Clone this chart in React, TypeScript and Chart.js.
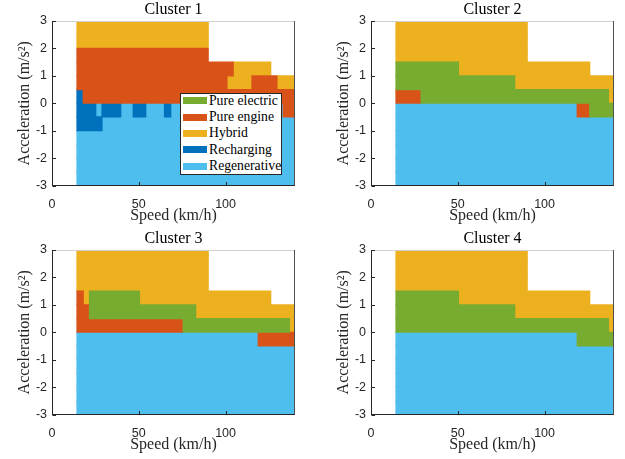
import React, { useEffect, useRef } from 'react';
import { Chart, registerables } from 'chart.js';

Chart.register(...registerables);

type Run = [string, number, number];

// ---- data ----
const modeCodes = ['E', 'G', 'H', 'C', 'R'];
const modeNames = ['Pure electric', 'Pure engine', 'Hybrid', 'Recharging', 'Regenerative'];
const modeColors = ['#77AC30', '#D95319', '#EDB120', '#0072BD', '#4DBEEE'];

const accelEdges = [3, 2.5, 2, 1.5, 1, 0.5, 0, -0.5, -1, -1.5, -2, -2.5, -3];
const xTicks = [0, 50, 100];
const yTicks = [-3, -2, -1, 0, 1, 2, 3];
const speedRangeKmh = [0, 140];
const accelRange = [-3, 3];
const msToKmh = 3.6;

const clusterTitles = ['Cluster 1', 'Cluster 2', 'Cluster 3', 'Cluster 4'];

// Runs per acceleration row (top row 2.5..3 first); speeds in m/s
const cluster1Runs: Run[][] = [
  [['H', 4, 25]],
  [['H', 4, 25]],
  [['G', 4, 25]],
  [['G', 4, 29], ['H', 29, 35]],
  [['G', 4, 28], ['H', 28, 32], ['G', 32, 36], ['H', 36, 39]],
  [['C', 4, 5], ['G', 5, 39]],
  [['C', 4, 7], ['R', 7, 8], ['C', 8, 11], ['R', 11, 13], ['C', 13, 15], ['R', 15, 18], ['C', 18, 19], ['R', 19, 37], ['G', 37, 39]],
  [['C', 4, 8], ['R', 8, 39]],
  [['R', 4, 39]],
  [['R', 4, 39]],
  [['R', 4, 39]],
  [['R', 4, 39]],
];

const cluster2Runs: Run[][] = [
  [['H', 4, 25]],
  [['H', 4, 25]],
  [['H', 4, 25]],
  [['E', 4, 14], ['H', 14, 35]],
  [['E', 4, 23], ['H', 23, 39]],
  [['G', 4, 8], ['E', 8, 38], ['H', 38, 39]],
  [['R', 4, 33], ['G', 33, 35], ['E', 35, 39]],
  [['R', 4, 39]],
  [['R', 4, 39]],
  [['R', 4, 39]],
  [['R', 4, 39]],
  [['R', 4, 39]],
];

const cluster3Runs: Run[][] = [
  [['H', 4, 25]],
  [['H', 4, 25]],
  [['H', 4, 25]],
  [['G', 4, 5], ['H', 5, 6], ['E', 6, 14], ['H', 14, 35]],
  [['G', 4, 6], ['E', 6, 23], ['H', 23, 39]],
  [['G', 4, 21], ['E', 21, 38], ['H', 38, 39]],
  [['R', 4, 33], ['G', 33, 39]],
  [['R', 4, 39]],
  [['R', 4, 39]],
  [['R', 4, 39]],
  [['R', 4, 39]],
  [['R', 4, 39]],
];

const cluster4Runs: Run[][] = [
  [['H', 4, 25]],
  [['H', 4, 25]],
  [['H', 4, 25]],
  [['E', 4, 14], ['H', 14, 35]],
  [['E', 4, 23], ['H', 23, 39]],
  [['E', 4, 38], ['H', 38, 39]],
  [['R', 4, 33], ['E', 33, 39]],
  [['R', 4, 39]],
  [['R', 4, 39]],
  [['R', 4, 39]],
  [['R', 4, 39]],
  [['R', 4, 39]],
];

const clusterRuns = [cluster1Runs, cluster2Runs, cluster3Runs, cluster4Runs];

// ---- style / layout ----
const SERIF = "'Liberation Serif', 'Times New Roman', serif";
const SANS = "'Liberation Sans', Arial, sans-serif";
const TEXT = '#262626';

const CANVAS_W = [312, 313, 312, 313];
const CANVAS_H = 229;
const CANVAS_POS = [
  [0, 0],
  [312, 0],
  [0, 229],
  [312, 229],
];
const PAD_L = [0, 7, 0, 7];
const PAD_R = [17, 11, 17, 11];

const rowLabels = accelEdges.slice(0, -1).map((v, i) => `${accelEdges[i + 1]} to ${v}`);

function buildDatasets(runs: Run[][]) {
  const datasets: any[] = [];
  modeCodes.forEach((code, m) => {
    const perRow = runs.map((row) => row.filter((r) => r[0] === code));
    const maxK = Math.max(0, ...perRow.map((r) => r.length));
    for (let k = 0; k < maxK; k++) {
      datasets.push({
        label: modeNames[m],
        data: perRow.map((r) => (r[k] ? [r[k][1] * msToKmh, r[k][2] * msToKmh] : null)),
        backgroundColor: modeColors[m],
        borderWidth: 0,
        borderSkipped: false,
        yAxisID: 'yc',
        xAxisID: 'x',
        grouped: false,
        barPercentage: 1,
        categoryPercentage: 1,
        inflateAmount: 0.6,
        clip: 0,
      });
    }
  });
  return datasets;
}

const framePlugin = {
  id: 'frame',
  afterDraw(chart: any) {
    const { ctx, chartArea: a, scales } = chart;
    ctx.save();
    ctx.lineWidth = 1;
    // top (light)
    ctx.strokeStyle = '#d0d0d0';
    ctx.beginPath();
    ctx.moveTo(a.left, Math.floor(a.top) + 0.5);
    ctx.lineTo(a.right, Math.floor(a.top) + 0.5);
    ctx.stroke();
    ctx.strokeStyle = TEXT;
    const L = Math.floor(a.left) + 0.5;
    const B = Math.round(a.bottom) - 0.5;
    const R = Math.round(a.right) - 0.5;
    ctx.beginPath();
    ctx.moveTo(L, a.top);
    ctx.lineTo(L, B + 0.5);
    ctx.moveTo(L - 0.5, B);
    ctx.lineTo(a.right, B);
    ctx.stroke();
    ctx.strokeStyle = '#505050';
    ctx.beginPath();
    ctx.moveTo(R, a.top);
    ctx.lineTo(R, a.bottom);
    ctx.stroke();
    ctx.strokeStyle = TEXT;
    ctx.beginPath();
    yTicks.forEach((v) => {
      const y = Math.round(scales.y.getPixelForValue(v)) + 0.5;
      ctx.moveTo(L, y);
      ctx.lineTo(L + 3.5, y);
    });
    xTicks.forEach((v) => {
      const x = Math.round(scales.x.getPixelForValue(v)) + 0.5;
      ctx.moveTo(x, B);
      ctx.lineTo(x, B - 3.5);
    });
    ctx.stroke();
    ctx.restore();
  },
};

function ClusterChart({ idx }: { idx: number }) {
  const ref = useRef<HTMLCanvasElement>(null);
  useEffect(() => {
    if (!ref.current) return;
    const chart = new Chart(ref.current, {
      type: 'bar',
      data: { labels: rowLabels, datasets: buildDatasets(clusterRuns[idx]) },
      options: {
        indexAxis: 'y',
        responsive: false,
        animation: false,
        events: [],
        layout: { padding: { left: PAD_L[idx], right: PAD_R[idx], top: 0, bottom: 0 } },
        plugins: {
          legend: { display: false },
          tooltip: { enabled: false },
          title: {
            display: true,
            text: clusterTitles[idx],
            fullSize: false,
            color: '#000',
            font: { family: SERIF, size: 16, weight: 'normal', lineHeight: 1 },
            padding: { top: 1.6, bottom: 3.4 },
          },
        },
        scales: {
          x: {
            type: 'linear',
            position: 'bottom',
            min: speedRangeKmh[0],
            max: speedRangeKmh[1],
            offset: false,
            beginAtZero: false,
            grid: { display: false, drawTicks: false, tickLength: 0, offset: false },
            border: { display: false },
            afterBuildTicks: (s: any) => {
              s.ticks = xTicks.map((v) => ({ value: v }));
            },
            afterFit: (s: any) => {
              s.height = 43.5;
            },
            ticks: {
              color: TEXT,
              font: { family: SANS, size: 12.5 },
              padding: 11.5,
              maxRotation: 0,
              autoSkip: false,
              callback: (v: any) => String(v),
            },
            title: {
              display: true,
              text: 'Speed (km/h)',
              color: TEXT,
              font: { family: SERIF, size: 16, lineHeight: 1 },
              padding: { top: 0, bottom: 5 },
            },
          },
          y: {
            type: 'linear',
            position: 'left',
            min: accelRange[0],
            max: accelRange[1],
            offset: false,
            grid: { display: false, drawTicks: false, tickLength: 0, offset: false },
            border: { display: false },
            afterBuildTicks: (s: any) => {
              s.ticks = yTicks.map((v) => ({ value: v }));
            },
            afterFit: (s: any) => {
              s.width = 52;
            },
            ticks: {
              color: TEXT,
              font: { family: SANS, size: 12.5 },
              padding: 5,
              autoSkip: false,
              callback: (v: any) => String(v),
            },
            title: {
              display: true,
              text: 'Acceleration (m/s²)',
              color: TEXT,
              font: { family: SERIF, size: 16, lineHeight: 1 },
              padding: { top: 17, bottom: 0 },
            },
          },
          yc: {
            type: 'category',
            axis: 'y',
            display: false,
            offset: true,
            grid: { display: false, offset: true },
          },
        },
      } as any,
      plugins: [framePlugin],
    });
    return () => chart.destroy();
  }, [idx]);
  return (
    <canvas
      ref={ref}
      width={CANVAS_W[idx]}
      height={CANVAS_H}
      style={{
        position: 'absolute',
        left: CANVAS_POS[idx][0],
        top: CANVAS_POS[idx][1],
        width: CANVAS_W[idx],
        height: CANVAS_H,
      }}
    />
  );
}

const legendCenters = [6.8, 23.1, 39.4, 55.7, 72.0];

function Legend() {
  return (
    <div
      style={{
        position: 'absolute',
        left: 180,
        top: 93,
        width: 102,
        height: 82,
        boxSizing: 'border-box',
        border: `1px solid ${TEXT}`,
        background: '#fff',
        zIndex: 2,
      }}
    >
      {modeNames.map((name, i) => (
        <React.Fragment key={name}>
          <div
            style={{
              position: 'absolute',
              left: 2,
              top: legendCenters[i] - 3.5,
              width: 24,
              height: 7,
              background: modeColors[i],
            }}
          />
          <div
            style={{
              position: 'absolute',
              left: 28,
              top: legendCenters[i] - 8,
              height: 16,
              lineHeight: '16px',
              fontFamily: SERIF,
              fontSize: 13.7,
              color: '#000',
              whiteSpace: 'nowrap',
            }}
          >
            {name}
          </div>
        </React.Fragment>
      ))}
    </div>
  );
}

export default function App() {
  return (
    <div style={{ position: 'absolute', left: 0, top: 0, width: 625, height: 459, background: '#fff' }}>
      {[0, 1, 2, 3].map((i) => (
        <ClusterChart key={i} idx={i} />
      ))}
      <Legend />
    </div>
  );
}
